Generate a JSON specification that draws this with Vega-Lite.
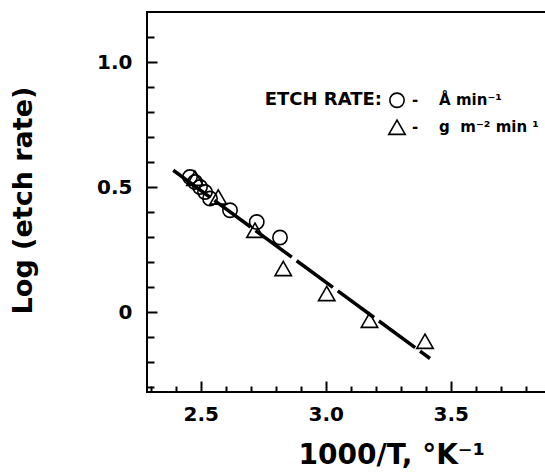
{
  "$schema": "https://vega.github.io/schema/vega-lite/v6.json",
  "width": 400,
  "height": 380,
  "autosize": {"type": "none"},
  "padding": {"left": 147, "top": 12, "right": 0, "bottom": 81},
  "background": "white",
  "config": {
    "view": {"stroke": "black", "strokeWidth": 2},
    "font": "DejaVu Sans"
  },
  "resolve": {"axis": {"x": "independent", "y": "independent"}},
  "datasets": {
    "points": [
      {"x": 2.457, "y": 0.540, "series": "circle"},
      {"x": 2.477, "y": 0.520, "series": "circle"},
      {"x": 2.497, "y": 0.500, "series": "circle"},
      {"x": 2.517, "y": 0.480, "series": "circle"},
      {"x": 2.537, "y": 0.454, "series": "circle"},
      {"x": 2.617, "y": 0.407, "series": "circle"},
      {"x": 2.724, "y": 0.360, "series": "circle"},
      {"x": 2.817, "y": 0.298, "series": "circle"},
      {"x": 2.477, "y": 0.535, "series": "triangle"},
      {"x": 2.570, "y": 0.460, "series": "triangle"},
      {"x": 2.717, "y": 0.327, "series": "triangle"},
      {"x": 2.830, "y": 0.174, "series": "triangle"},
      {"x": 3.004, "y": 0.074, "series": "triangle"},
      {"x": 3.175, "y": -0.033, "series": "triangle"},
      {"x": 3.397, "y": -0.117, "series": "triangle"}
    ],
    "fit": [
      {"x": 2.39, "y": 0.567},
      {"x": 3.417, "y": -0.186}
    ],
    "legendMarks": [
      {"x": 3.285, "y": 0.847, "series": "circle"},
      {"x": 3.285, "y": 0.739, "series": "triangle"}
    ],
    "legendHeader": [
      {"x": 3.225, "y": 0.847, "text": "ETCH RATE:"}
    ],
    "legendUnits": [
      {"x": 3.345, "y": 0.847, "text": "-\u00a0\u00a0\u00a0\u00a0Å min⁻¹"},
      {"x": 3.345, "y": 0.739, "text": "-\u00a0\u00a0\u00a0\u00a0g\u00a0\u00a0m⁻²\u00a0min\u00a0¹"}
    ]
  },
  "layer": [
    {
      "data": {"name": "fit"},
      "mark": {"type": "line", "color": "black", "strokeWidth": 3.5, "strokeDash": [45, 6]},
      "encoding": {
        "x": {
          "field": "x", "type": "quantitative",
          "scale": {"domain": [2.285, 3.885], "nice": false, "zero": false},
          "axis": {
            "orient": "bottom",
            "values": [2.5, 3.0, 3.5],
            "format": ".1f",
            "labelOverlap": false,
            "labelFlush": false,
            "domain": false,
            "grid": false,
            "ticks": true,
            "tickColor": "black",
            "tickWidth": 2,
            "tickSize": -11,
            "labelFont": "DejaVu Sans",
            "labelFontWeight": "bold",
            "labelFontSize": 20,
            "labelColor": "black",
            "labelPadding": 23,
            "labelBaseline": "top",
            "title": "1000/T, °K⁻¹",
            "titleFont": "DejaVu Sans",
            "titleFontWeight": "bold",
            "titleFontSize": 28,
            "titleColor": "black",
            "titleAnchor": "start",
            "titleAlign": "left",
            "titleX": 151,
            "titleY": 71,
            "titleBaseline": "alphabetic"
          }
        },
        "y": {
          "field": "y", "type": "quantitative",
          "scale": {"domain": [-0.32, 1.2], "nice": false, "zero": false},
          "axis": {
            "orient": "left",
            "values": [0, 0.5, 1.0],
            "labelExpr": "abs(datum.value) < 0.001 ? '0' : format(datum.value, '.1f')",
            "labelOverlap": false,
            "labelFlush": false,
            "domain": false,
            "grid": false,
            "tickColor": "black",
            "tickWidth": 2,
            "tickSize": -10,
            "labelFont": "DejaVu Sans",
            "labelFontWeight": "bold",
            "labelFontSize": 20,
            "labelColor": "black",
            "labelPadding": 25,
            "labelBaseline": "middle",
            "title": "Log (etch rate)",
            "titleFont": "DejaVu Sans",
            "titleFontWeight": "bold",
            "titleFontSize": 27,
            "titleColor": "black",
            "titleAngle": 270,
            "titleAlign": "center",
            "titleBaseline": "middle",
            "titleX": -124,
            "titleY": 188
          }
        }
      }
    },
    {
      "data": {"name": "points"},
      "mark": {"type": "point", "filled": false, "stroke": "black", "strokeWidth": 1.6, "opacity": 1},
      "encoding": {
        "x": {
          "field": "x", "type": "quantitative",
          "axis": {
            "orient": "bottom",
            "values": [2.3, 2.4, 2.6, 2.7, 2.8, 2.9, 3.1, 3.2, 3.3, 3.4, 3.6, 3.7, 3.8],
            "labels": false,
            "domain": false,
            "grid": false,
            "tickColor": "black",
            "tickWidth": 2,
            "tickSize": -6,
            "title": null
          }
        },
        "y": {
          "field": "y", "type": "quantitative",
          "axis": {
            "orient": "left",
            "values": [-0.3, -0.2, -0.1, 0.1, 0.2, 0.3, 0.4, 0.6, 0.7, 0.8, 0.9, 1.1],
            "labels": false,
            "domain": false,
            "grid": false,
            "tickColor": "black",
            "tickWidth": 2,
            "tickSize": -7,
            "title": null
          }
        },
        "shape": {
          "field": "series", "type": "nominal",
          "scale": {"domain": ["circle", "triangle"], "range": ["circle", "triangle-up"]},
          "legend": null
        },
        "size": {
          "field": "series", "type": "nominal",
          "scale": {"domain": ["circle", "triangle"], "range": [205, 270]},
          "legend": null
        }
      }
    },
    {
      "data": {"name": "legendMarks"},
      "mark": {"type": "point", "filled": false, "stroke": "black", "strokeWidth": 1.6, "opacity": 1},
      "encoding": {
        "x": {"field": "x", "type": "quantitative", "axis": null},
        "y": {"field": "y", "type": "quantitative", "axis": null},
        "shape": {"field": "series", "type": "nominal", "legend": null},
        "size": {"field": "series", "type": "nominal", "legend": null}
      }
    },
    {
      "data": {"name": "legendHeader"},
      "mark": {"type": "text", "align": "right", "baseline": "middle", "font": "DejaVu Sans", "fontWeight": "bold", "fontSize": 18, "color": "black"},
      "encoding": {
        "x": {"field": "x", "type": "quantitative", "axis": null},
        "y": {"field": "y", "type": "quantitative", "axis": null},
        "text": {"field": "text"}
      }
    },
    {
      "data": {"name": "legendUnits"},
      "mark": {"type": "text", "align": "left", "baseline": "middle", "font": "DejaVu Sans", "fontWeight": "bold", "fontSize": 15, "color": "black"},
      "encoding": {
        "x": {"field": "x", "type": "quantitative", "axis": null},
        "y": {"field": "y", "type": "quantitative", "axis": null},
        "text": {"field": "text"}
      }
    }
  ]
}
